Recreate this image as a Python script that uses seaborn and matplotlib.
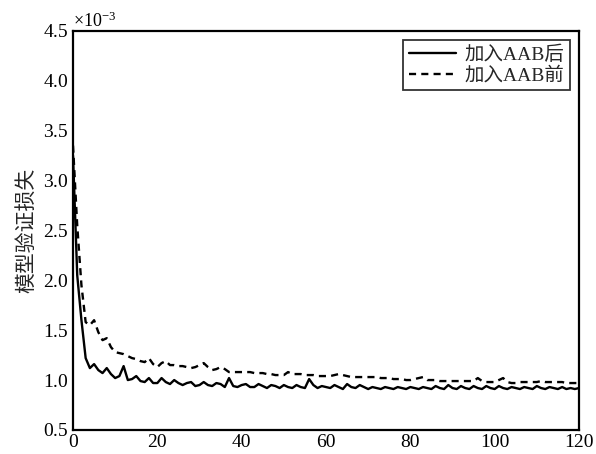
import numpy as np
import pandas as pd
import seaborn as sns
import matplotlib
matplotlib.use("Agg")
import matplotlib.pyplot as plt

# Validation loss per epoch (units of 1e-3)
epochs = list(range(0, 121))
loss_after = [
    3.25, 2.05, 1.60, 1.22, 1.12, 1.16, 1.10, 1.07, 1.12, 1.06,
    1.02, 1.04, 1.14, 1.00, 1.01, 1.04, 0.99, 0.98, 1.02, 0.97,
    0.97, 1.02, 0.98, 0.96, 1.00, 0.97, 0.95, 0.97, 0.98, 0.94,
    0.95, 0.98, 0.95, 0.94, 0.97, 0.96, 0.93, 1.02, 0.94, 0.93,
    0.95, 0.96, 0.93, 0.93, 0.96, 0.94, 0.92, 0.95, 0.94, 0.92,
    0.95, 0.93, 0.92, 0.95, 0.93, 0.92, 1.01, 0.95, 0.92, 0.94,
    0.93, 0.92, 0.95, 0.93, 0.91, 0.96, 0.93, 0.92, 0.95, 0.93,
    0.91, 0.93, 0.92, 0.91, 0.93, 0.92, 0.91, 0.93, 0.92, 0.91,
    0.93, 0.92, 0.91, 0.93, 0.92, 0.91, 0.94, 0.92, 0.91, 0.95,
    0.92, 0.91, 0.94, 0.92, 0.91, 0.94, 0.92, 0.91, 0.94, 0.92,
    0.91, 0.94, 0.92, 0.91, 0.93, 0.92, 0.91, 0.93, 0.92, 0.91,
    0.94, 0.92, 0.91, 0.93, 0.92, 0.91, 0.93, 0.91, 0.92, 0.91,
    0.92,
]
loss_before = [
    3.35, 2.55, 1.95, 1.58, 1.55, 1.60, 1.48, 1.40, 1.42, 1.33,
    1.28, 1.27, 1.26, 1.24, 1.22, 1.21, 1.19, 1.18, 1.22, 1.16,
    1.13, 1.17, 1.19, 1.15, 1.15, 1.14, 1.14, 1.13, 1.12, 1.13,
    1.15, 1.17, 1.13, 1.10, 1.11, 1.13, 1.11, 1.08, 1.08, 1.08,
    1.08, 1.08, 1.08, 1.07, 1.07, 1.07, 1.06, 1.06, 1.05, 1.05,
    1.05, 1.08, 1.06, 1.06, 1.06, 1.05, 1.05, 1.05, 1.04, 1.04,
    1.04, 1.04, 1.05, 1.06, 1.05, 1.04, 1.03, 1.03, 1.03, 1.03,
    1.03, 1.03, 1.03, 1.02, 1.02, 1.02, 1.01, 1.01, 1.01, 1.00,
    1.00, 1.01, 1.02, 1.03, 1.00, 1.00, 1.00, 0.99, 0.99, 0.99,
    0.99, 0.99, 0.99, 0.99, 0.99, 0.99, 1.02, 0.99, 0.98, 0.98,
    0.98, 1.00, 1.02, 0.98, 0.97, 0.97, 0.98, 0.98, 0.98, 0.98,
    0.98, 0.99, 0.98, 0.98, 0.98, 0.98, 0.98, 0.97, 0.97, 0.97,
    0.97,
]
series_names = ["加入AAB后", "加入AAB前"]
y_label = "模型验证损失"
x_ticks = [0, 20, 40, 60, 80, 100, 120]
y_ticks = [0.5, 1.0, 1.5, 2.0, 2.5, 3.0, 3.5, 4.0, 4.5]

df = pd.DataFrame({
    "epoch": epochs * 2,
    "loss": np.array(loss_after + loss_before) * 1e-3,
    "series": [series_names[0]] * len(epochs) + [series_names[1]] * len(epochs),
})

sns.set_style("white")
plt.rcParams["font.family"] = ["Liberation Serif", "Noto Sans CJK SC"]
plt.rcParams["mathtext.fontset"] = "custom"
plt.rcParams["mathtext.rm"] = "Liberation Serif"
plt.rcParams["axes.unicode_minus"] = True

fig = plt.figure(figsize=(5.96, 4.54), dpi=100)
ax = fig.add_axes([0.1225, 0.053, 0.849, 0.879])

sns.lineplot(
    data=df, x="epoch", y="loss", style="series", hue="series",
    palette={series_names[0]: "black", series_names[1]: "black"},
    dashes={series_names[0]: "", series_names[1]: (3.0, 2.2)},
    linewidth=1.7, ax=ax, legend=False,
)
for ln in ax.get_lines():
    ln.set_solid_joinstyle("round")
    ln.set_dash_capstyle("butt")

ax.set_xlim(0, 120)
ax.set_ylim(0.5e-3, 4.5e-3)
ax.set_xticks(x_ticks)
ax.set_yticks([v * 1e-3 for v in y_ticks])
ax.ticklabel_format(axis="y", style="sci", scilimits=(-3, -3), useMathText=True)
ax.yaxis.get_offset_text().set_fontsize(13)
ax.tick_params(axis="both", direction="in", length=5, width=1.3,
               labelsize=14, colors="black", pad=3)
for s in ax.spines.values():
    s.set_color("black")
    s.set_linewidth(1.6)
ax.set_xlabel("")
ax.set_ylabel(y_label, fontsize=15, labelpad=4)

handles = ax.get_lines()[:2]
leg = ax.legend(handles, series_names, loc="upper right", fontsize=14,
                frameon=True, fancybox=False, edgecolor="black",
                handlelength=2.4, handletextpad=0.45, borderpad=0.3,
                labelspacing=0.15, borderaxespad=0.45)
leg.get_frame().set_linewidth(1.3)

fig.savefig("out.png", dpi=100, facecolor="white")
